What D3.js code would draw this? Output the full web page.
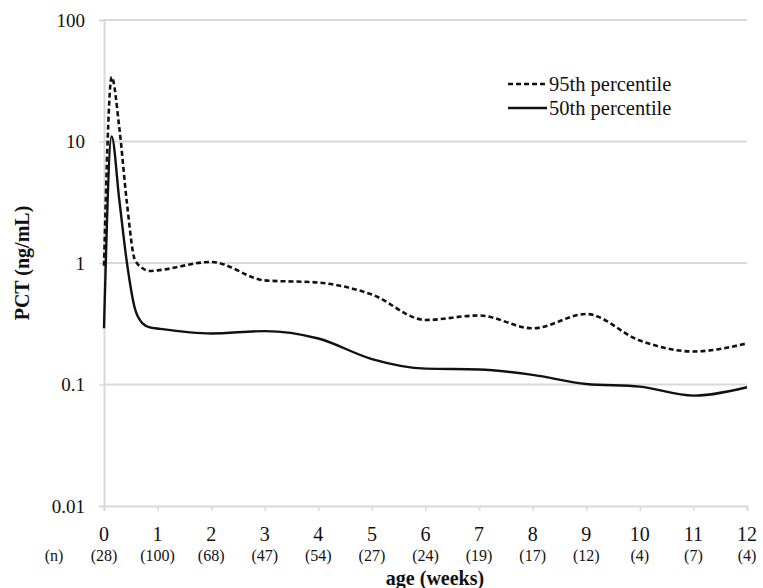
<!DOCTYPE html>
<html>
<head>
<meta charset="utf-8">
<script src="https://cdn.jsdelivr.net/npm/d3@7"></script>
<style>
  body { margin: 0; background: #fff; }
</style>
</head>
<body>
<div id="chart-container"></div>
<script>
// age in weeks (daily points during the first week)
const ages = [0, 1/7, 2/7, 3/7, 4/7, 5/7, 6/7, 1, 2, 3, 4, 5, 6, 7, 8, 9, 10, 11, 12];
const p95 = [0.95, 34, 13, 3.1, 1.08, 0.91, 0.86, 0.87, 1.02, 0.72, 0.69, 0.55, 0.34, 0.37, 0.29, 0.38, 0.23, 0.187, 0.218];
const p50 = [0.29, 11, 3.3, 1.0, 0.43, 0.32, 0.295, 0.289, 0.263, 0.275, 0.239, 0.162, 0.135, 0.133, 0.12, 0.101, 0.096, 0.081, 0.095];
const weekTicks = [0, 1, 2, 3, 4, 5, 6, 7, 8, 9, 10, 11, 12];
const nLabels = ['(28)', '(100)', '(68)', '(47)', '(54)', '(27)', '(24)', '(19)', '(17)', '(12)', '(4)', '(7)', '(4)'];
const yTicks = [0.01, 0.1, 1, 10, 100];
const yTickLabels = ['0.01', '0.1', '1', '10', '100'];
const seriesNames = ['95th percentile', '50th percentile'];

const width = 763, height = 588;
const margin = { top: 20, right: 16, bottom: 82, left: 104 };
const serif = "'Liberation Serif', 'DejaVu Serif', serif";

const svg = d3.select('#chart-container')
  .append('svg')
  .attr('width', width)
  .attr('height', height)
  .attr('font-family', serif);

const x = d3.scaleLinear()
  .domain([0, 12])
  .range([margin.left, width - margin.right]);

const y = d3.scaleLog()
  .domain([0.01, 100])
  .range([height - margin.bottom, margin.top]);

// gridlines
svg.append('g')
  .selectAll('line')
  .data(yTicks.slice(1))
  .enter()
  .append('line')
  .attr('x1', x(0))
  .attr('x2', x(12))
  .attr('y1', d => y(d))
  .attr('y2', d => y(d))
  .attr('stroke', '#d9d9d9')
  .attr('stroke-width', 2);

// x axis
const xAxis = svg.append('g')
  .attr('transform', `translate(0, ${y(0.01)})`)
  .call(d3.axisBottom(x).tickValues(weekTicks).tickSize(5).tickFormat(''));
xAxis.select('.domain').attr('stroke', '#d9d9d9').attr('stroke-width', 2);
xAxis.selectAll('.tick line').attr('stroke', '#d9d9d9').attr('stroke-width', 1.5);

// y axis
const yAxis = svg.append('g')
  .attr('transform', `translate(${x(0)}, 0)`)
  .call(d3.axisLeft(y).tickValues(yTicks).tickSize(5).tickFormat(''));
yAxis.select('.domain').attr('stroke', '#d9d9d9').attr('stroke-width', 2);
yAxis.selectAll('.tick line').attr('stroke', '#d9d9d9').attr('stroke-width', 1.5);

// tick labels
svg.append('g')
  .selectAll('text')
  .data(yTicks)
  .enter()
  .append('text')
  .attr('x', x(0) - 19)
  .attr('y', d => y(d))
  .attr('dy', '0.35em')
  .attr('text-anchor', 'end')
  .attr('font-family', serif)
  .attr('font-size', 19)
  .attr('fill', '#111')
  .text((d, i) => yTickLabels[i]);

svg.append('g')
  .selectAll('text')
  .data(weekTicks)
  .enter()
  .append('text')
  .attr('x', d => x(d))
  .attr('y', 541)
  .attr('text-anchor', 'middle')
  .attr('font-family', serif)
  .attr('font-size', 20)
  .attr('fill', '#111')
  .text(d => d);

svg.append('g')
  .selectAll('text')
  .data(weekTicks)
  .enter()
  .append('text')
  .attr('x', d => x(d))
  .attr('y', 561)
  .attr('text-anchor', 'middle')
  .attr('font-family', serif)
  .attr('font-size', 16)
  .attr('fill', '#111')
  .text((d, i) => nLabels[i]);

svg.append('text')
  .attr('x', 54)
  .attr('y', 561)
  .attr('text-anchor', 'middle')
  .attr('font-family', serif)
  .attr('font-size', 16)
  .attr('fill', '#111')
  .text('(n)');

// axis titles
svg.append('text')
  .attr('x', 435)
  .attr('y', 585)
  .attr('text-anchor', 'middle')
  .attr('font-family', serif)
  .attr('font-size', 20)
  .attr('font-weight', 'bold')
  .attr('fill', '#111')
  .text('age (weeks)');

svg.append('text')
  .attr('transform', `translate(29, ${(y(0.1) + y(10)) / 2}) rotate(-90)`)
  .attr('text-anchor', 'middle')
  .attr('font-family', serif)
  .attr('font-size', 20)
  .attr('font-weight', 'bold')
  .attr('fill', '#111')
  .text('PCT (ng/mL)');

// lines
const line = vals => d3.line()
  .x((d, i) => x(ages[i]))
  .y(d => y(d))
  .curve(d3.curveMonotoneX)(vals);

svg.append('path')
  .attr('d', line(p95))
  .attr('fill', 'none')
  .attr('stroke', '#111')
  .attr('stroke-width', 2.6)
  .attr('stroke-dasharray', '5,3');

svg.append('path')
  .attr('d', line(p50))
  .attr('fill', 'none')
  .attr('stroke', '#111')
  .attr('stroke-width', 2.4);

// legend
const legend = svg.append('g').attr('transform', 'translate(508, 84)');
[0, 1].forEach(i => {
  const g = legend.append('g').attr('transform', `translate(0, ${i * 24})`);
  g.append('line')
    .attr('x1', 0).attr('x2', 39)
    .attr('stroke', '#111')
    .attr('stroke-width', i === 0 ? 2.6 : 2.4)
    .attr('stroke-dasharray', i === 0 ? '5,3' : null);
  g.append('text')
    .attr('x', 41)
    .attr('dy', '0.35em')
    .attr('font-family', serif)
    .attr('font-size', 20.5)
    .attr('fill', '#111')
    .text(seriesNames[i]);
});
</script>
</body>
</html>
